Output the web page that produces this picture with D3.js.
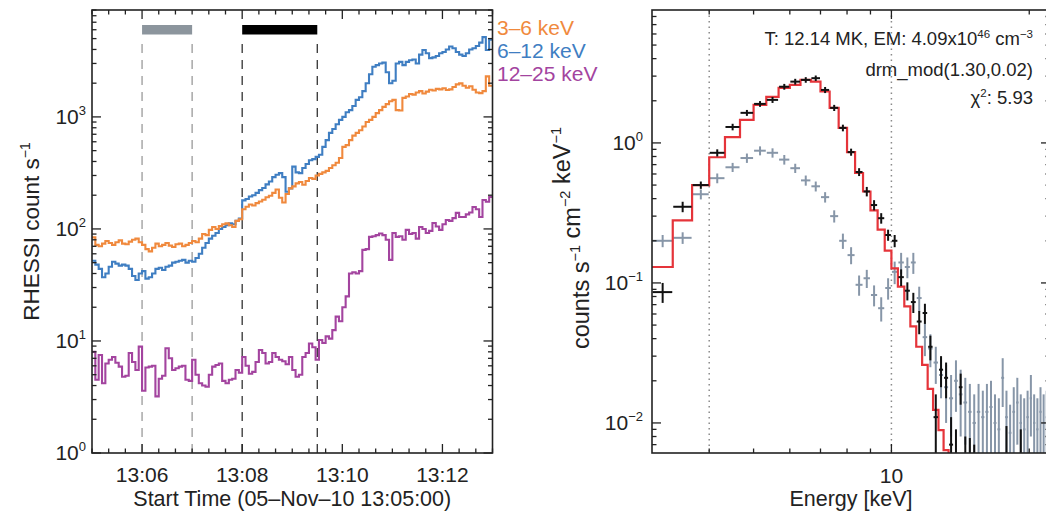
<!DOCTYPE html>
<html>
<head>
<meta charset="utf-8">
<script src="https://cdn.jsdelivr.net/npm/d3@7"></script>
<style>
  body { margin: 0; background: #fff; }
  text { font-family: "Liberation Sans", Arial, Helvetica, sans-serif; fill: #222; }
</style>
</head>
<body>
<svg id="fig" width="1046" height="512"></svg>
<script>
// ---------- Light curves: RHESSI count rates, 4 s bins from 13:05:00 ----------
const obsDay = "2010-11-05";
const startTime = "13:05:00";
const endTime = "13:13:00";
const binSeconds = 4;

const rate3to6 = [
  84,72,70,74,78,75,72,76,79,74,73,77,80,82,76,
  72,66,63,68,74,70,72,75,71,69,73,74,70,72,75,
  78,76,82,90,88,98,104,100,106,110,112,108,104,118,122,
  150,158,165,162,170,176,182,192,198,210,225,190,172,205,230,
  240,255,262,248,268,285,280,300,310,320,330,350,370,390,430,
  540,560,620,680,720,760,820,900,940,1000,1080,1150,1230,1300,1380,
  1420,1150,1140,1480,1520,1600,1580,1650,1700,1620,1680,1750,1720,1780,1760,
  1800,1740,1760,1850,1950,1990,1900,1820,1880,1750,1650,1630,1700,2300,1900
];
const rate6to12 = [
  52,48,44,37,40,46,51,49,47,48,47,44,38,35,40,
  42,36,37,40,44,45,43,46,47,50,51,52,53,50,52,
  51,55,60,68,75,82,87,92,100,104,108,112,110,118,124,
  180,185,195,200,210,222,232,250,265,290,305,315,290,215,230,
  360,320,315,350,380,410,420,440,460,540,620,720,780,860,940,
  1000,1100,1150,1250,1420,1500,1700,2000,2400,2800,2900,3000,3050,2500,2000,
  2100,3000,3100,2900,3100,3200,3250,3000,3600,3950,3700,3350,3400,3500,3700,
  3800,4000,4250,4100,3800,3600,3500,3700,4000,4100,4300,4600,5150,3950,4900
];
const rate12to25 = [
  8.0,4.5,7.5,4.2,6.3,6.8,7.2,6.4,5.9,4.8,4.9,7.8,6.5,5.5,8.9,
  3.6,5.8,5.9,6.0,3.2,4.6,4.9,8.6,7.0,5.5,5.7,5.9,6.0,4.5,4.4,
  6.8,5.0,4.2,4.0,3.9,5.0,5.9,6.1,6.3,4.4,4.2,4.5,4.6,5.5,5.2,
  7.2,6.0,5.1,5.3,6.5,8.3,7.8,6.3,6.5,7.8,7.2,6.8,6.6,6.2,7.2,
  5.5,4.8,5.0,7.2,7.8,9.5,8.8,6.8,10.2,9.6,11,10.5,12.5,16.5,15,
  20,25,40,41,40,42,65,66,85,86,88,91,88,80,53,
  92,85,86,80,98,90,92,82,104,100,92,96,113,105,98,
  110,120,118,125,139,128,128,135,140,157,150,128,181,175,193
];
const bandLabels = ["3–6 keV", "6–12 keV", "12–25 keV"];
const timeTickLabels = ["13:06", "13:08", "13:10", "13:12"];
const backgroundInterval = ["13:06:00", "13:07:00"];
const flareInterval = ["13:08:00", "13:09:30"];
const countExponents = [0, 1, 2, 3];

// ---------- Spectrum: 1/3 keV energy bins ----------
const energyEdges = [
  3.00,3.33,3.67,4.00,4.33,4.67,5.00,5.33,5.67,6.00,6.33,6.67,7.00,7.33,7.67,
  8.00,8.33,8.67,9.00,9.33,9.67,10.00,10.33,10.67,11.00,11.33,11.67,12.00,12.33,12.67,
  13.00,13.33,13.67,14.00,14.33,14.67,15.00,15.33,15.67,16.00,16.33,16.67,17.00,17.33,17.67,
  18.00,18.33,18.67,19.00,19.33,19.67,20.00,20.33,20.67,21.00,21.33,21.67,22.00
];
// flare counts (black)
const flareFlux = [
  0.086,0.35,0.50,0.85,1.30,1.64,1.90,2.03,2.52,2.74,2.82,2.90,2.39,1.78,1.28,
  0.86,0.62,0.45,0.36,0.29,0.22,0.20,0.11,0.088,0.073,0.053,0.061,0.035,0.011,0.024,
  0.021,0.007,0.006,0.018,0.005,0.005,0.004,0.003,0.002,0.003,0.002,0.003,0.002,0.002,0.006,
  0.002,0.002,0.003,0.006,0.002,0.002,0.002,0.002,0.002,0.002,0.002,0.002
];
const flareErr = [
  0.014,0.03,0.03,0.05,0.07,0.08,0.09,0.1,0.12,0.13,0.13,0.13,0.12,0.09,0.07,
  0.05,0.04,0.035,0.03,0.025,0.02,0.02,0.015,0.013,0.012,0.01,0.01,0.007,0.005,0.006,
  0.006,0.004,0.003,0.0045,0.003,0.0028,0.003,0.002,0.002,0.002,0.002,0.002,0.002,0.002,0.0035,
  0.002,0.002,0.002,0.003,0.002,0.002,0.002,0.002,0.002,0.002,0.002,0.002
];
// background counts (grey)
const backgroundFlux = [
  0.20,0.21,0.43,0.56,0.67,0.78,0.88,0.85,0.76,0.66,0.54,0.49,0.41,0.30,0.20,
  0.158,0.097,0.108,0.082,0.066,0.092,0.12,0.14,0.13,0.14,0.078,0.041,0.034,0.027,0.022,
  0.018,0.015,0.020,0.016,0.014,0.012,0.010,0.012,0.011,0.012,0.013,0.010,0.009,0.021,0.011,
  0.0085,0.012,0.014,0.010,0.009,0.011,0.015,0.010,0.009,0.012,0.010,0.011
];
const backgroundErr = [
  0.02,0.02,0.035,0.045,0.05,0.06,0.065,0.065,0.06,0.05,0.045,0.04,0.035,0.03,0.025,
  0.022,0.016,0.016,0.014,0.013,0.016,0.022,0.024,0.022,0.024,0.016,0.011,0.009,0.008,0.007,
  0.008,0.007,0.008,0.008,0.007,0.007,0.006,0.007,0.006,0.007,0.007,0.006,0.006,0.008,0.006,
  0.005,0.006,0.007,0.006,0.006,0.006,0.007,0.006,0.006,0.006,0.006,0.006
];
// thermal model folded through the response (red)
const modelFlux = [
  0.13,0.28,0.50,0.79,1.10,1.46,1.87,2.13,2.47,2.60,2.82,2.74,2.33,1.78,1.28,
  0.86,0.61,0.45,0.33,0.24,0.17,0.127,0.094,0.068,0.049,0.035,0.026,0.0175,0.0124,0.0089,
  0.0064,0.0045
];
const fitRange = [4, 10];
const energyMajor = [10];
const energyMinor = [4, 5, 6, 7, 8, 9, 20];
const fluxExponents = [0, -1, -2];
const fitText = { temp: "12.14", em: "4.09", emExp: "46", drm: "drm_mod(1.30,0.02)", chi2: "5.93" };

// ---------- drawing ----------
const W = 1046, H = 512;
const svg = d3.select("#fig");
svg.append("rect").attr("width", W).attr("height", H).attr("fill", "#fff");
const defs = svg.append("defs");

const C = { orange: "#f0893d", blue: "#3f7ec2", purple: "#a3449f", black: "#111",
            grey: "#8c959d", red: "#e5343a", bgPts: "#8796a8" };

function supLabel(g, x, y, base, sup, anchor, size) {
  const t = g.append("text").attr("x", x).attr("y", y)
    .attr("text-anchor", anchor).attr("font-size", size);
  t.append("tspan").text(base);
  t.append("tspan").attr("font-size", size * 0.62).attr("dy", -size * 0.42).text(sup);
  return t;
}

// ===== Left panel: light curves =====
const LP = { x0: 92, x1: 492.5, y0: 10, y1: 453 };
const parseT = d3.utcParse("%Y-%m-%d %H:%M:%S");
const T = s => parseT(obsDay + " " + s);
const t0 = T(startTime), tEnd = T(endTime);
const xT = d3.scaleUtc().domain([t0, tEnd]).range([LP.x0, LP.x1]);
const yC = d3.scaleLog().domain([1, 9000]).range([LP.y1, LP.y0]);

const gL = svg.append("g");
defs.append("clipPath").attr("id", "clipL").append("rect")
  .attr("x", LP.x0).attr("y", LP.y0).attr("width", LP.x1 - LP.x0).attr("height", LP.y1 - LP.y0);

// interval markers
const intervals = [
  { r: backgroundInterval, bar: C.grey, dash: "#9a9a9a" },
  { r: flareInterval, bar: "#000", dash: "#333" }
];
intervals.forEach(iv => {
  const a = xT(T(iv.r[0])), b = xT(T(iv.r[1]));
  [a, b].forEach(xx => gL.append("line").attr("x1", xx).attr("x2", xx)
    .attr("y1", 44).attr("y2", LP.y1).attr("stroke", iv.dash)
    .attr("stroke-width", 1.3).attr("stroke-dasharray", "9,7"));
  gL.append("rect").attr("x", a).attr("y", 25).attr("width", b - a).attr("height", 9.5)
    .attr("fill", iv.bar);
});

const stepLine = d3.line().curve(d3.curveStepAfter)
  .x(d => xT(d[0])).y(d => yC(d[1]));
function series(vals) {
  const pts = vals.map((v, i) => [d3.utcSecond.offset(t0, i * binSeconds), v]);
  pts.push([d3.utcSecond.offset(t0, vals.length * binSeconds), vals[vals.length - 1]]);
  return pts;
}
const curves = [
  { v: rate6to12, c: C.blue },
  { v: rate3to6, c: C.orange },
  { v: rate12to25, c: C.purple }
];
const gCurves = gL.append("g").attr("clip-path", "url(#clipL)");
curves.forEach(s => gCurves.append("path").attr("d", stepLine(series(s.v)))
  .attr("fill", "none").attr("stroke", s.c).attr("stroke-width", 2.1)
  .attr("stroke-linejoin", "miter"));

// frame and ticks
gL.append("rect").attr("x", LP.x0).attr("y", LP.y0).attr("width", LP.x1 - LP.x0)
  .attr("height", LP.y1 - LP.y0).attr("fill", "none").attr("stroke", "#222").attr("stroke-width", 1.6);

function tick(g, x1, y1, x2, y2) {
  g.append("line").attr("x1", x1).attr("y1", y1).attr("x2", x2).attr("y2", y2)
    .attr("stroke", "#222").attr("stroke-width", 1.3);
}
countExponents.forEach(e => {
  const d = Math.pow(10, e);
  const yy = yC(d);
  tick(gL, LP.x0, yy, LP.x0 + 9, yy);
  tick(gL, LP.x1, yy, LP.x1 - 9, yy);
  for (let m = 2; m <= 9; m++) {
    const v = d * m;
    if (v > yC.domain()[1]) break;
    tick(gL, LP.x0, yC(v), LP.x0 + 4.5, yC(v));
    tick(gL, LP.x1, yC(v), LP.x1 - 4.5, yC(v));
  }
  supLabel(gL, LP.x0 - 6, yy + 7, "10", String(e), "end", 21);
});
d3.utcSecond.every(20).range(t0, d3.utcSecond.offset(tEnd, 1)).forEach(t => {
  const xx = xT(t);
  const major = t.getUTCSeconds() === 0 && t.getUTCMinutes() % 2 === 0;
  const len = major ? 9 : 4.5;
  tick(gL, xx, LP.y1, xx, LP.y1 - len);
  tick(gL, xx, LP.y0, xx, LP.y0 + len);
});
timeTickLabels.forEach(s => {
  gL.append("text").attr("x", xT(T(s + ":00"))).attr("y", 482)
    .attr("text-anchor", "middle").attr("font-size", 21).text(s);
});
gL.append("text").attr("x", (LP.x0 + LP.x1) / 2).attr("y", 506)
  .attr("text-anchor", "middle").attr("font-size", 21.5)
  .text("Start Time (05–Nov–10 13:05:00)");
const yLabL = gL.append("text").attr("transform", `translate(39,${(LP.y0 + LP.y1) / 2}) rotate(-90)`)
  .attr("text-anchor", "middle").attr("font-size", 22.5);
yLabL.append("tspan").text("RHESSI count s");
yLabL.append("tspan").attr("font-size", 14).attr("dy", -9).text("−1");

// legend
const legendColors = [C.orange, C.blue, C.purple];
bandLabels.forEach((s, i) => {
  gL.append("text").attr("x", 497).attr("y", 35 + i * 23).attr("font-size", 21)
    .style("fill", legendColors[i]).text(s);
});

// ===== Right panel: spectrum =====
const RP = { x0: 652, x1: 1050, y0: 10, y1: 453 };
const xE = d3.scaleLog().domain([3, 22.2]).range([RP.x0, RP.x1]);
const yF = d3.scaleLog().domain([0.0061, 8.9]).range([RP.y1, RP.y0]);
const gR = svg.append("g");
defs.append("clipPath").attr("id", "clipR").append("rect")
  .attr("x", RP.x0).attr("y", RP.y0).attr("width", RP.x1 - RP.x0).attr("height", RP.y1 - RP.y0);
const gPlot = gR.append("g").attr("clip-path", "url(#clipR)");

// fit range markers
fitRange.forEach(e => gPlot.append("line").attr("x1", xE(e)).attr("x2", xE(e))
  .attr("y1", RP.y0).attr("y2", RP.y1).attr("stroke", "#8a8a8a")
  .attr("stroke-width", 1.5).attr("stroke-dasharray", "1.5,4"));

const fMin = yF.domain()[0];
function crosses(vals, errs, color, width) {
  const g = gPlot.append("g").attr("stroke", color).attr("stroke-width", width);
  vals.forEach((v, k) => {
    const lo = energyEdges[k], hi = energyEdges[k + 1];
    const xc = xE((lo + hi) / 2);
    const top = v + errs[k];
    if (top < fMin) return;
    const bot = Math.max(v - errs[k], fMin * 0.9);
    g.append("line").attr("x1", xc).attr("x2", xc).attr("y1", yF(bot)).attr("y2", yF(top));
    if (v >= fMin) g.append("line").attr("x1", xE(lo) + 0.5).attr("x2", xE(hi) - 0.5)
      .attr("y1", yF(v)).attr("y2", yF(v));
  });
}
crosses(backgroundFlux, backgroundErr, C.bgPts, 2);

const modelPts = modelFlux.map((v, k) => [energyEdges[k], v]);
modelPts.push([energyEdges[modelFlux.length], modelFlux[modelFlux.length - 1]]);
gPlot.append("path")
  .attr("d", d3.line().curve(d3.curveStepAfter).x(d => xE(d[0])).y(d => yF(d[1]))(modelPts))
  .attr("fill", "none").attr("stroke", C.red).attr("stroke-width", 2.2);

crosses(flareFlux, flareErr, C.black, 2);

// frame and ticks
gR.append("rect").attr("x", RP.x0).attr("y", RP.y0).attr("width", RP.x1 - RP.x0)
  .attr("height", RP.y1 - RP.y0).attr("fill", "none").attr("stroke", "#222").attr("stroke-width", 1.6);
fluxExponents.forEach(e => {
  const d = Math.pow(10, e);
  tick(gR, RP.x0, yF(d), RP.x0 + 9, yF(d));
  tick(gR, RP.x1, yF(d), RP.x1 - 9, yF(d));
  supLabel(gR, RP.x0 - 9, yF(d) + 7, "10", e < 0 ? "−" + (-e) : String(e), "end", 21);
});
[-3, -2, -1, 0].forEach(e => {
  for (let m = 2; m <= 9; m++) {
    const v = Math.pow(10, e) * m;
    if (v < fMin || v > yF.domain()[1]) continue;
    tick(gR, RP.x0, yF(v), RP.x0 + 4.5, yF(v));
    tick(gR, RP.x1, yF(v), RP.x1 - 4.5, yF(v));
  }
});
energyMajor.forEach(e => {
  tick(gR, xE(e), RP.y1, xE(e), RP.y1 - 9);
  tick(gR, xE(e), RP.y0, xE(e), RP.y0 + 9);
  gR.append("text").attr("x", xE(e)).attr("y", 483).attr("text-anchor", "middle")
    .attr("font-size", 21).text(String(e));
});
energyMinor.forEach(e => {
  tick(gR, xE(e), RP.y1, xE(e), RP.y1 - 4.5);
  tick(gR, xE(e), RP.y0, xE(e), RP.y0 + 4.5);
});
gR.append("text").attr("x", (RP.x0 + RP.x1) / 2).attr("y", 506).attr("text-anchor", "middle")
  .attr("font-size", 21.5).text("Energy [keV]");

const yLabR = gR.append("text").attr("transform", `translate(589,238) rotate(-90)`)
  .attr("text-anchor", "middle").attr("font-size", 23.5);
[["counts s", "−1"], [" cm", "−2"], [" keV", "−1"]].forEach(([a, b]) => {
  yLabR.append("tspan").text(a);
  yLabR.append("tspan").attr("font-size", 14.5).attr("dy", -9.5).text(b);
  yLabR.append("tspan").attr("dy", 9.5).text("");
});

// fit annotations
const ax = 1033;
const fs = 18.5;
const t1 = gR.append("text").attr("x", ax).attr("y", 45).attr("text-anchor", "end").attr("font-size", fs);
t1.append("tspan").text(`T: ${fitText.temp} MK, EM: ${fitText.em}x10`);
t1.append("tspan").attr("font-size", 11.5).attr("dy", -7.5).text(fitText.emExp);
t1.append("tspan").attr("dy", 7.5).text(" cm");
t1.append("tspan").attr("font-size", 11.5).attr("dy", -7.5).text("−3");
gR.append("text").attr("x", ax).attr("y", 76).attr("text-anchor", "end").attr("font-size", fs)
  .text(fitText.drm);
const t3 = gR.append("text").attr("x", ax).attr("y", 104).attr("text-anchor", "end").attr("font-size", fs);
t3.append("tspan").text("χ");
t3.append("tspan").attr("font-size", 11.5).attr("dy", -7.5).text("2");
t3.append("tspan").attr("dy", 7.5).text(": " + fitText.chi2);
</script>
</body>
</html>
